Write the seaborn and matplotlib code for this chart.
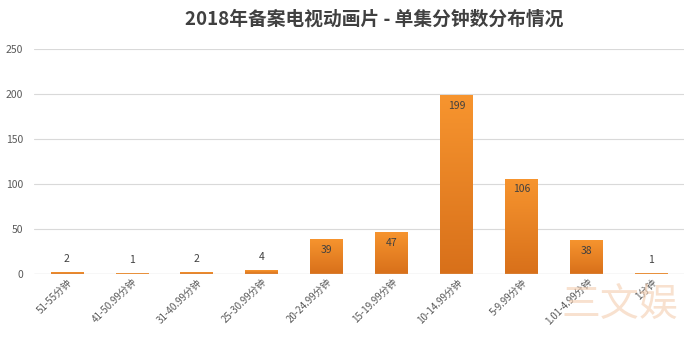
import matplotlib
matplotlib.use("Agg")
import matplotlib.pyplot as plt
import seaborn as sns
import numpy as np
import pandas as pd
from matplotlib.colors import LinearSegmentedColormap

categories = ["51-55分钟", "41-50.99分钟", "31-40.99分钟", "25-30.99分钟", "20-24.99分钟",
              "15-19.99分钟", "10-14.99分钟", "5-9.99分钟", "1.01-4.99分钟", "1分钟"]
values = [2, 1, 2, 4, 39, 47, 199, 106, 38, 1]
yticks = [0, 50, 100, 150, 200, 250]
title = "2018年备案电视动画片 - 单集分钟数分布情况"

sns.set_theme(style="white")
plt.rcParams['font.family'] = ['Noto Sans CJK SC', 'DejaVu Sans']

df = pd.DataFrame({"cat": categories, "val": values})
fig = plt.figure(figsize=(7.0, 3.46), dpi=100)
ax = fig.add_axes([0.049, 0.208, 0.928, 0.650])
sns.barplot(data=df, x="cat", y="val", color="#ED7D31", width=0.5, ax=ax, zorder=3)

ax.set_ylim(0, 250)
ax.set_xlim(-0.5, len(categories) - 0.5)
ax.set_yticks(yticks)
ax.yaxis.grid(True, color="#D9D9D9", linewidth=0.8, zorder=0)
ax.set_axisbelow(True)
for s in ax.spines.values():
    s.set_visible(False)
ax.axhline(0, color="#D9D9D9", linewidth=0.9, zorder=4)
ax.set_xlabel("")
ax.set_ylabel("")
ax.tick_params(axis="y", labelsize=7.5, colors="#595959", length=0, pad=8)
ax.tick_params(axis="x", labelsize=7, colors="#595959", length=0, pad=2)
plt.setp(ax.get_xticklabels(), rotation=45, ha="right", rotation_mode="anchor")

cmap = LinearSegmentedColormap.from_list("og", ["#D8701A", "#F7952F"])
grad = np.linspace(0, 1, 256).reshape(-1, 1)
for p, v in zip(ax.patches, values):
    x0, y0 = p.get_x(), p.get_y()
    w, h = p.get_width(), p.get_height()
    p.set_facecolor("none")
    p.set_edgecolor("none")
    im = ax.imshow(grad, cmap=cmap, aspect="auto", origin="lower",
                   extent=[x0, x0 + w, y0, y0 + h], zorder=3)
    im.set_clip_path(p)
    xc = x0 + w / 2
    if v >= 20:
        ax.text(xc, v - 12, str(v), ha="center", va="center", fontsize=7.5, color="#404040", zorder=5)
    else:
        ax.text(xc, v + 15, str(v), ha="center", va="center", fontsize=7.5, color="#404040", zorder=5)
ax.set_ylim(0, 250)
ax.set_xlim(-0.5, len(categories) - 0.5)

fig.text(0.534, 0.945, title, ha="center", va="center", fontsize=13.5, fontweight="bold", color="#404040")
fig.text(0.885, 0.115, "三文娱", ha="center", va="center", fontsize=28, color="#F4CDAF", alpha=0.6)

fig.savefig("out.png", dpi=100)
